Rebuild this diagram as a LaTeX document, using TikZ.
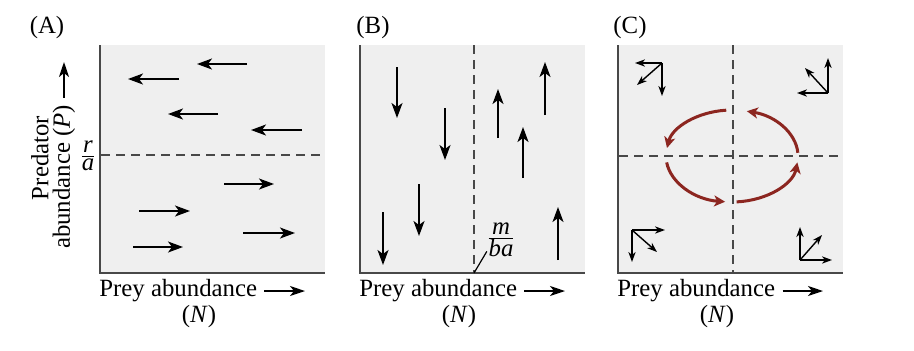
\documentclass[tikz,border=0pt]{standalone}
\usepackage{amsmath}
\usepackage{fontspec}
\setmainfont{Liberation Serif}
\usetikzlibrary{arrows.meta, positioning}

\definecolor{plotgray}{RGB}{239,239,239}
\definecolor{axisgray}{RGB}{72,72,72}
\definecolor{cycred}{RGB}{140,38,32}

\tikzset{
  lbl/.style={font=\fontsize{12.4}{15}\selectfont, inner sep=0pt},
  axisline/.style={axisgray, line width=1.1pt},
  isocline/.style={axisgray, line width=0.9pt, dash pattern=on 4.5pt off 3pt},
  flow/.style={line width=0.8pt, -{Stealth[length=7.5pt, width=5.5pt, inset=2pt]}},
  vec/.style={line width=0.7pt, -{Stealth[length=5pt, width=3.6pt, inset=1.5pt]}},
  cyc/.style={cycred, line width=1.5pt, -{Stealth[length=5.5pt, width=5.5pt, inset=1.5pt]}},
  labarrow/.style={line width=0.8pt, -{Stealth[length=7.5pt, width=5pt, inset=2pt]}},
  leader/.style={line width=0.6pt}
}

\begin{document}
\begin{tikzpicture}[x=0.5pt, y=-0.5pt]
  \useasboundingbox (0,0) rectangle (914,350);

  % panels: background, axes, prey label
  \foreach \px/\tag in {100/A, 360/B, 618/C} {
    \fill[plotgray] (\px,45) rectangle ++(225,228);
    \draw[axisline] (\px,45) |- ++(225,228);
    \node[lbl, anchor=west] (prey\tag) at (\px-1,291) {Prey abundance};
    \coordinate (ntip\tag) at (\px+205,291);
    \draw[labarrow] ([xshift=3.5pt]prey\tag.east) -- (ntip\tag);
    \node[lbl] (nlab\tag) at (\px+99,317) {(\textit{N})};
  }

  \node[lbl] (tagA) at (47,28) {(A)};
  \node[lbl] (tagB) at (373,28) {(B)};
  \node[lbl] (tagC) at (630,28) {(C)};

  % predator axis label
  \node[lbl, rotate=90] (pred) at (40,158) {Predator};
  \node[lbl, rotate=90] (abund) at (64,177) {abundance (\textit{P})};
  \coordinate (ptip) at (64,62);
  \draw[labarrow] ([yshift=3.5pt]abund.east) -- (ptip);

  % (A) prey isocline P = r/a
  \draw[isocline] (101,155) -- (325,155);
  \node[lbl] (ratio) at (88,156) {$\frac{\hbox{\textit{r}}}{\hbox{\textit{a}}}$};
  \foreach \xa/\xb/\yy in {247/197/64, 179/128/79, 218/168/114, 302/251/130,
                           224/274/184, 139/190/211, 243/295/233, 133/183/247}
    \draw[flow] (\xa,\yy) -- (\xb,\yy);

  % (B) predator isocline N = m/ba
  \draw[isocline] (474,45) -- (474,273);
  \node[lbl] (mba) at (501,240) {$\frac{\hbox{\textit{m}}}{\hbox{\textit{ba}}}$};
  \coordinate (bfoot) at (474,273);
  \draw[leader] (bfoot) -- ([shift={(0.5pt,3pt)}]mba.south west);
  \foreach \xx/\ya/\yb in {397/67/118, 445/108/160, 419/184/236, 383/212/265,
                           498/138/89, 523/178/127, 545/115/62, 558/260/207}
    \draw[flow] (\xx,\ya) -- (\xx,\yb);

  % (C) both isoclines and the cycle
  \draw[isocline] (733,45) -- (733,273);
  \draw[isocline] (619,156) -- (842,156);
  \foreach \a/\b in {265/190, 172/96, 86/8, -4/-77}
    \draw[cyc] ([shift={(\a:66 and 46)}]732,156)
      arc[start angle=\a, end angle=\b, x radius=66, y radius=46];
  \foreach \ox/\oy/\ux/\uy/\vx/\vy/\wx/\wy in {662/63/-27/0/0/33/-25/22,
                                               828/93/0/-35/-31/0/-23/-25,
                                               632/230/33/0/0/32/25/22,
                                               800/260/0/-33/32/0/22/-25} {
    \draw[vec] (\ox,\oy) -- ++(\ux,\uy);
    \draw[vec] (\ox,\oy) -- ++(\vx,\vy);
    \draw[vec] (\ox,\oy) -- ++(\wx,\wy);
  }
\end{tikzpicture}
\end{document}
